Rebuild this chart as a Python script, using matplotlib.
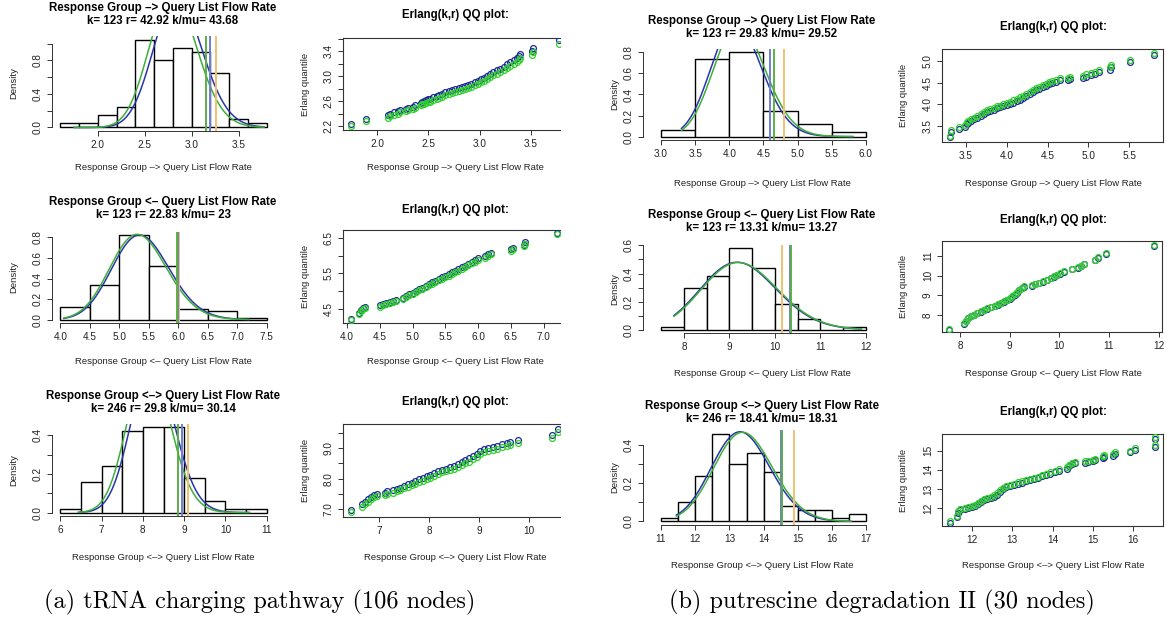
import math
import numpy as np
import matplotlib
matplotlib.use("Agg")
import matplotlib.pyplot as plt

plt.rcParams['font.family'] = ['Liberation Sans', 'DejaVu Sans']

W, H = 1167, 621

# ---------------- data ----------------
hist_titles = ["Response Group \u2013> Query List Flow Rate",
               "Response Group <\u2013 Query List Flow Rate",
               "Response Group <\u2013> Query List Flow Rate"]
params_a = [(123, 42.92, 43.68), (123, 22.83, 23), (246, 29.8, 30.14)]
params_b = [(123, 29.83, 29.52), (123, 13.31, 13.27), (246, 18.41, 18.31)]

# histogram breaks and densities
a1_breaks = [1.6, 1.8, 2.0, 2.2, 2.4, 2.6, 2.8, 3.0, 3.2, 3.4, 3.6, 3.8]
a1_dens = [0.05, 0.05, 0.15, 0.25, 1.05, 0.80, 0.95, 0.90, 0.65, 0.10, 0.05]
a2_breaks = [4.0, 4.5, 5.0, 5.5, 6.0, 6.5, 7.0, 7.5]
a2_dens = [0.12, 0.34, 0.82, 0.52, 0.10, 0.08, 0.02]
a3_breaks = [6.0, 6.5, 7.0, 7.5, 8.0, 8.5, 9.0, 9.5, 10.0, 10.5, 11.0]
a3_dens = [0.02, 0.16, 0.24, 0.42, 0.44, 0.44, 0.18, 0.06, 0.02, 0.02]
b1_breaks = [3.0, 3.5, 4.0, 4.5, 5.0, 5.5, 6.0]
b1_dens = [0.06, 0.74, 0.80, 0.24, 0.12, 0.04]
b2_breaks = [7.5, 8.0, 8.5, 9.0, 9.5, 10.0, 10.5, 11.0, 11.5, 12.0]
b2_dens = [0.02, 0.30, 0.38, 0.58, 0.44, 0.18, 0.08, 0.0, 0.02]
b3_breaks = [11.0, 11.5, 12.0, 12.5, 13.0, 13.5, 14.0, 14.5, 15.0, 15.5, 16.0, 16.5, 17.0]
b3_dens = [0.02, 0.10, 0.24, 0.46, 0.30, 0.36, 0.26, 0.08, 0.06, 0.06, 0.02, 0.04]

# vertical lines (green, blue, orange)
a_vlines = [(3.15, 3.20, 3.26), (5.975, 5.995, 6.01), (8.84, 8.95, 9.09)]
b_vlines = [(4.65, 4.60, 4.80), (10.36, 10.33, 10.15), (14.55, 14.50, 14.88)]

# QQ data: sample (x), Erlang quantiles blue and green
qa1_x = [1.75, 1.89, 2.11, 2.13, 2.17, 2.20, 2.22, 2.28, 2.30, 2.35, 2.37, 2.43, 2.44, 2.46,
         2.48, 2.50, 2.52, 2.55, 2.58, 2.60, 2.63, 2.66, 2.70, 2.73, 2.76, 2.80, 2.83, 2.86,
         2.89, 2.92, 2.95, 2.98, 3.01, 3.04, 3.07, 3.10, 3.13, 3.17, 3.20, 3.24, 3.27, 3.30,
         3.33, 3.36, 3.38, 3.39, 3.51, 3.52, 3.77]
qa1_b = [2.24, 2.32, 2.37, 2.40, 2.42, 2.44, 2.46, 2.48, 2.49, 2.51, 2.53, 2.57, 2.59, 2.60,
         2.62, 2.63, 2.64, 2.66, 2.68, 2.70, 2.72, 2.74, 2.76, 2.78, 2.79, 2.81, 2.82, 2.84,
         2.86, 2.88, 2.90, 2.92, 2.95, 2.97, 3.00, 3.03, 3.06, 3.09, 3.12, 3.15, 3.19, 3.22,
         3.25, 3.29, 3.32, 3.35, 3.40, 3.45, 3.58]
qa1_g = [2.20, 2.28, 2.33, 2.36, 2.38, 2.40, 2.42, 2.44, 2.45, 2.47, 2.49, 2.53, 2.55, 2.56,
         2.57, 2.58, 2.59, 2.61, 2.63, 2.65, 2.67, 2.69, 2.71, 2.73, 2.74, 2.76, 2.77, 2.79,
         2.81, 2.83, 2.85, 2.87, 2.90, 2.92, 2.95, 2.98, 3.01, 3.04, 3.07, 3.10, 3.13, 3.16,
         3.19, 3.23, 3.26, 3.29, 3.34, 3.39, 3.52]

qa2_x = [4.06, 4.19, 4.22, 4.25, 4.27, 4.50, 4.55, 4.60, 4.65, 4.70, 4.75, 4.85, 4.90, 4.95,
         5.00, 5.05, 5.10, 5.15, 5.20, 5.25, 5.30, 5.35, 5.40, 5.45, 5.50, 5.55, 5.60, 5.65,
         5.70, 5.75, 5.80, 5.85, 5.90, 5.95, 6.00, 6.10, 6.15, 6.20, 6.50, 6.53, 6.70, 6.72, 7.20]
qa2_b = [4.21, 4.40, 4.48, 4.53, 4.57, 4.60, 4.63, 4.66, 4.69, 4.72, 4.76, 4.82, 4.87, 4.92,
         4.96, 5.01, 5.06, 5.10, 5.15, 5.20, 5.25, 5.29, 5.34, 5.39, 5.43, 5.48, 5.53, 5.57,
         5.62, 5.67, 5.72, 5.77, 5.82, 5.87, 5.92, 5.98, 6.03, 6.08, 6.17, 6.22, 6.30, 6.38, 6.64]
qa2_g = [4.18, 4.37, 4.45, 4.50, 4.54, 4.57, 4.60, 4.63, 4.66, 4.69, 4.72, 4.78, 4.83, 4.88,
         4.92, 4.97, 5.02, 5.06, 5.11, 5.16, 5.21, 5.25, 5.30, 5.35, 5.39, 5.44, 5.49, 5.53,
         5.58, 5.63, 5.68, 5.73, 5.78, 5.83, 5.88, 5.94, 5.99, 6.04, 6.13, 6.18, 6.26, 6.33, 6.59]

qa3_x = [6.44, 6.65, 6.72, 6.78, 6.84, 6.90, 6.95, 7.12, 7.15, 7.28, 7.35, 7.42, 7.50, 7.58,
         7.65, 7.72, 7.80, 7.88, 7.95, 8.02, 8.10, 8.18, 8.26, 8.34, 8.42, 8.50, 8.58, 8.66,
         8.72, 8.80, 8.88, 8.95, 9.02, 9.10, 9.18, 9.27, 9.35, 9.45, 9.55, 9.62, 9.78, 10.45, 10.58]
qa3_b = [6.97, 7.15, 7.23, 7.32, 7.40, 7.46, 7.50, 7.54, 7.58, 7.62, 7.66, 7.70, 7.76, 7.82,
         7.87, 7.92, 7.97, 8.02, 8.07, 8.12, 8.18, 8.24, 8.29, 8.33, 8.37, 8.42, 8.48, 8.54,
         8.60, 8.66, 8.74, 8.82, 8.90, 8.96, 9.01, 9.05, 9.08, 9.12, 9.17, 9.20, 9.27, 9.42, 9.62]
qa3_g = [6.89, 7.07, 7.15, 7.24, 7.32, 7.38, 7.42, 7.46, 7.50, 7.54, 7.58, 7.62, 7.68, 7.73,
         7.78, 7.83, 7.88, 7.93, 7.98, 8.03, 8.09, 8.15, 8.20, 8.24, 8.28, 8.32, 8.38, 8.44,
         8.50, 8.56, 8.64, 8.72, 8.80, 8.86, 8.91, 8.95, 8.98, 9.02, 9.07, 9.10, 9.17, 9.32, 9.52]

qb1_x = [3.30, 3.32, 3.41, 3.49, 3.51, 3.53, 3.56, 3.60, 3.64, 3.68, 3.72, 3.76, 3.80, 3.84,
         3.88, 3.92, 3.96, 4.00, 4.04, 4.08, 4.12, 4.16, 4.20, 4.24, 4.28, 4.32, 4.36, 4.40,
         4.44, 4.48, 4.52, 4.56, 4.60, 4.65, 4.75, 4.78, 4.93, 4.97, 5.03, 5.08, 5.13, 5.26,
         5.28, 5.51, 5.81]
qb1_b = [3.24, 3.36, 3.44, 3.48, 3.55, 3.58, 3.61, 3.65, 3.69, 3.73, 3.78, 3.82, 3.85, 3.88,
         3.91, 3.93, 3.95, 3.98, 4.01, 4.04, 4.07, 4.11, 4.15, 4.19, 4.24, 4.28, 4.32, 4.36,
         4.39, 4.43, 4.46, 4.49, 4.52, 4.55, 4.56, 4.59, 4.61, 4.64, 4.67, 4.70, 4.74, 4.80,
         4.86, 4.97, 5.13]
qb1_g = [3.28, 3.40, 3.48, 3.52, 3.59, 3.62, 3.65, 3.69, 3.73, 3.77, 3.82, 3.86, 3.89, 3.92,
         3.95, 3.97, 4.00, 4.03, 4.06, 4.09, 4.12, 4.16, 4.20, 4.24, 4.29, 4.33, 4.37, 4.41,
         4.44, 4.48, 4.51, 4.54, 4.57, 4.60, 4.61, 4.64, 4.66, 4.69, 4.72, 4.75, 4.79, 4.85,
         4.91, 5.02, 5.18]

qb2_x = [7.78, 8.09, 8.13, 8.17, 8.22, 8.28, 8.35, 8.42, 8.48, 8.55, 8.62, 8.70, 8.76, 8.82,
         8.88, 8.94, 9.00, 9.05, 9.10, 9.15, 9.20, 9.25, 9.30, 9.45, 9.52, 9.60, 9.68, 9.76,
         9.84, 9.90, 9.96, 10.02, 10.10, 10.26, 10.38, 10.44, 10.50, 10.72, 10.78, 10.95, 11.90]
qb2_g = [7.27, 7.58, 7.72, 7.85, 7.95, 8.02, 8.10, 8.20, 8.28, 8.35, 8.42, 8.48, 8.55, 8.62,
         8.70, 8.78, 8.86, 8.95, 9.05, 9.16, 9.27, 9.38, 9.47, 9.52, 9.58, 9.65, 9.72, 9.80,
         9.88, 9.96, 10.04, 10.12, 10.22, 10.35, 10.42, 10.50, 10.60, 10.82, 10.95, 11.15, 11.55]
qb2_b = [7.25, 7.56, 7.70, 7.83, 7.93, 8.00, 8.08, 8.18, 8.26, 8.33, 8.40, 8.46, 8.53, 8.60,
         8.68, 8.76, 8.84, 8.93, 9.03, 9.14, 9.25, 9.36, 9.45, 9.50, 9.56, 9.63, 9.70, 9.78,
         9.86, 9.93, 10.01, 10.09, 10.19, 10.32, 10.39, 10.47, 10.57, 10.79, 10.92, 11.12, 11.52]

qb3_x = [11.45, 11.63, 11.66, 11.70, 11.82, 11.90, 12.00, 12.08, 12.15, 12.22, 12.30, 12.38,
         12.46, 12.55, 12.62, 12.70, 12.78, 12.85, 12.95, 13.05, 13.15, 13.25, 13.35, 13.45,
         13.55, 13.65, 13.75, 13.85, 13.95, 14.05, 14.15, 14.35, 14.40, 14.48, 14.55, 14.80,
         14.88, 15.00, 15.05, 15.25, 15.28, 15.50, 15.55, 15.93, 16.05, 16.55, 16.55]
qb3_g = [11.30, 11.60, 11.82, 11.97, 12.02, 12.06, 12.12, 12.18, 12.27, 12.37, 12.47, 12.54,
         12.60, 12.66, 12.77, 12.92, 13.07, 13.17, 13.22, 13.28, 13.34, 13.40, 13.46, 13.51,
         13.57, 13.64, 13.72, 13.80, 13.87, 13.94, 14.02, 14.12, 14.27, 14.37, 14.42, 14.44,
         14.48, 14.52, 14.57, 14.70, 14.76, 14.80, 14.92, 15.00, 15.12, 15.27, 15.70]
qb3_b = [11.24, 11.54, 11.76, 11.91, 11.96, 12.00, 12.06, 12.11, 12.20, 12.30, 12.40, 12.47,
         12.53, 12.59, 12.70, 12.85, 13.00, 13.10, 13.15, 13.21, 13.27, 13.33, 13.39, 13.44,
         13.50, 13.57, 13.65, 13.73, 13.80, 13.87, 13.95, 14.05, 14.20, 14.30, 14.35, 14.37,
         14.41, 14.45, 14.50, 14.63, 14.69, 14.73, 14.85, 14.93, 15.05, 15.20, 15.62]

BLUE = '#2a35a8'
GREEN = '#3fae3a'
VBLUE = '#6f7fd0'
VGREEN = '#5cae46'
VORANGE = '#f2c070'
PT_BLUE = '#1f2a9a'
PT_GREEN = '#2fd12a'
AX = '#333333'


def rect(l, t, r, b):
    return [l / W, 1 - b / H, (r - l) / W, (b - t) / H]


def ftext(x, y, s, **kw):
    fig.text(x / W, 1 - y / H, s, ha='center', va='center', **kw)


def erlang_pdf(x, k, r):
    return np.exp((k - 1) * np.log(x) + k * np.log(r) - r * x - math.lgamma(k))


def fmtnum(v):
    return ("%.2f" % v).rstrip('0').rstrip('.')


def fmt(vals, keep, dec=1):
    return [("%.*f" % (dec, v)) if i % keep == 0 else '' for i, v in enumerate(vals)]


def style_ticks(ax, xt, yt, ylab, xdec):
    ax.set_xticks(xt)
    ax.set_xticklabels(["%.*f" % (xdec, v) for v in xt])
    ax.set_yticks(yt)
    ax.set_yticklabels(ylab)
    ax.tick_params(direction='out', length=3.6, width=0.7, colors=AX, labelsize=7.2,
                   labelcolor='#222222', pad=3)
    for lab in ax.get_yticklabels():
        lab.set_rotation(90)
        lab.set_va('center')


fig = plt.figure(figsize=(W / 100, H / 100), dpi=100)


def hist_panel(box, xlim, ylim, breaks, dens, kpar, vl, curve_x, xt, yt, ylab, title,
               xcent, ty, xly, ylx, xdec=1):
    ax = fig.add_axes(rect(*box))
    k, r, kmu = kpar
    widths = np.diff(breaks)
    ax.bar(breaks[:-1], dens, width=widths, align='edge', facecolor='white',
           edgecolor='black', linewidth=1.0, zorder=2)
    xs = np.linspace(min(curve_x), max(curve_x), 300)
    ax.plot(xs, erlang_pdf(xs, k, r), color=BLUE, lw=1.1, zorder=3)
    ax.plot(xs, erlang_pdf(xs, k, kmu), color=GREEN, lw=1.1, zorder=3)
    g, b, o = vl
    ax.axvline(o, color=VORANGE, lw=1.4, zorder=4)
    ax.axvline(b, color=VBLUE, lw=1.4, zorder=4)
    ax.axvline(g, color=VGREEN, lw=1.4, zorder=4)
    ax.set_xlim(*xlim)
    ax.set_ylim(*ylim)
    for s in ['top', 'right']:
        ax.spines[s].set_visible(False)
    ax.spines['left'].set_bounds(yt[0], yt[-1])
    ax.spines['bottom'].set_bounds(xt[0], xt[-1])
    for s in ['left', 'bottom']:
        ax.spines[s].set_color(AX)
        ax.spines[s].set_linewidth(0.7)
    style_ticks(ax, xt, yt, ylab, xdec)
    ftext(xcent, ty, title, fontsize=8.3, fontweight='bold')
    ftext(xcent, ty + 13, "k= %d r= %s k/mu= %s" % (k, fmtnum(r), fmtnum(kmu)),
          fontsize=8.3, fontweight='bold')
    ftext(xcent, xly, title, fontsize=6.8, color='#222222')
    ftext(ylx, (box[1] + box[3]) / 2, "Density", fontsize=6.8, color='#222222', rotation=90)


def qq_panel(box, xlim, ylim, x, yb, yg, xt, yt, ylab, xlab, xcent, ty, xly, ylx,
             cropped, xdec=1):
    ax = fig.add_axes(rect(*box))
    ax.plot(x, yb, 'o', mfc='none', mec=PT_BLUE, ms=4.2, mew=0.9, zorder=3)
    ax.plot(x, yg, 'o', mfc='none', mec=PT_GREEN, ms=4.2, mew=0.9, zorder=4)
    ax.set_xlim(*xlim)
    ax.set_ylim(*ylim)
    for s in ax.spines.values():
        s.set_color(AX)
        s.set_linewidth(0.8)
    if cropped:
        ax.spines['right'].set_visible(False)
    style_ticks(ax, xt, yt, ylab, xdec)
    ftext(xcent, ty, "Erlang(k,r) QQ plot:", fontsize=8.3, fontweight='bold')
    ftext(xcent, xly, xlab, fontsize=6.8, color='#222222')
    ftext(ylx, (box[1] + box[3]) / 2, "Erlang quantile", fontsize=6.8, color='#222222',
          rotation=90)


# ---------- (a) column ----------
hist_panel((52, 36, 275, 131), (1.512, 3.888), (-0.042, 1.092), a1_breaks, a1_dens,
           params_a[0], a_vlines[0], qa1_x, [2.0, 2.5, 3.0, 3.5], np.arange(0, 1.01, 0.2),
           fmt(np.arange(0, 1.01, 0.2), 2), hist_titles[0], 163, 8, 168, 14)
hist_panel((52, 232, 275, 323), (3.86, 7.64), (-0.0328, 0.8528), a2_breaks, a2_dens,
           params_a[1], a_vlines[1], qa2_x, np.arange(4.0, 7.51, 0.5), np.arange(0, 0.81, 0.2),
           fmt(np.arange(0, 0.81, 0.2), 1), hist_titles[1], 163, 202, 362, 14)
hist_panel((52, 424, 275, 516), (5.8, 11.2), (-0.0176, 0.4576), a3_breaks, a3_dens,
           params_a[2], a_vlines[2], qa3_x, np.arange(6, 11.1, 1), np.arange(0, 0.41, 0.1),
           fmt(np.arange(0, 0.41, 0.1), 2), hist_titles[2], 163, 396, 557, 14, xdec=0)

qq_panel((343, 38, 560, 130), (1.669, 3.782), (2.136, 3.61), qa1_x, qa1_b, qa1_g,
         [2.0, 2.5, 3.0, 3.5], np.arange(2.2, 3.61, 0.2), fmt(np.arange(2.2, 3.61, 0.2), 2),
         hist_titles[0], 455, 15, 168, 305, True)
qq_panel((343, 230, 560, 323), (3.94, 7.248), (4.108, 6.716), qa2_x, qa2_b, qa2_g,
         np.arange(4.0, 7.01, 0.5), np.arange(4.5, 6.51, 0.5), fmt(np.arange(4.5, 6.51, 0.5), 2),
         hist_titles[1], 455, 210, 362, 305, True)
qq_panel((343, 424, 560, 517), (6.28, 10.62), (6.74, 9.79), qa3_x, qa3_b, qa3_g,
         np.arange(7, 10.1, 1), np.arange(7.0, 9.51, 0.5), fmt(np.arange(7.0, 9.51, 0.5), 2),
         hist_titles[2], 455, 402, 557, 305, True, xdec=0)

# ---------- (b) column ----------
hist_panel((643, 49, 880, 140), (2.736, 6.206), (-0.032, 0.832), b1_breaks, b1_dens,
           params_b[0], b_vlines[0], qb1_x, np.arange(3.0, 6.01, 0.5), np.arange(0, 0.81, 0.2),
           fmt(np.arange(0, 0.81, 0.2), 1), hist_titles[0], 762, 21, 184, 615)
hist_panel((643, 245, 880, 333), (7.099, 12.31), (-0.0232, 0.6032), b2_breaks, b2_dens,
           params_b[1], b_vlines[1], qb2_x, np.arange(8, 12.1, 1), np.arange(0, 0.61, 0.1),
           fmt(np.arange(0, 0.61, 0.1), 2), hist_titles[1], 762, 215, 374, 615, xdec=0)
hist_panel((643, 430, 880, 525), (10.474, 17.4), (-0.0184, 0.4784), b3_breaks, b3_dens,
           params_b[2], b_vlines[2], qb3_x, np.arange(11, 17.1, 1), np.arange(0, 0.41, 0.1),
           fmt(np.arange(0, 0.41, 0.1), 2), hist_titles[2], 762, 406, 566, 615, xdec=0)

qq_panel((942, 49, 1163, 142), (3.206, 5.916), (3.13, 5.277), qb1_x, qb1_b, qb1_g,
         np.arange(3.5, 5.51, 0.5), np.arange(3.5, 5.01, 0.5), fmt(np.arange(3.5, 5.01, 0.5), 1),
         hist_titles[0], 1053, 27, 184, 903, False)
qq_panel((942, 241, 1162, 332), (7.64, 12.07), (7.14, 11.76), qb2_x, qb2_b, qb2_g,
         np.arange(8, 12.1, 1), np.arange(8, 11.1, 1), fmt(np.arange(8, 11.1, 1), 1, 0),
         hist_titles[1], 1053, 220, 374, 903, False, xdec=0)
qq_panel((942, 434, 1163, 526), (11.255, 16.745), (11.06, 15.87), qb3_x, qb3_b, qb3_g,
         np.arange(12, 16.1, 1), np.arange(12, 15.1, 1), fmt(np.arange(12, 15.1, 1), 1, 0),
         hist_titles[2], 1053, 412, 566, 903, False, xdec=0)

# captions
ftext(260, 602, "(a) tRNA charging pathway (106 nodes)", fontsize=17.5, family='cmr10')
ftext(882, 602, "(b) putrescine degradation II (30 nodes)", fontsize=17.5, family='cmr10')

fig.savefig("out.png", dpi=100)
